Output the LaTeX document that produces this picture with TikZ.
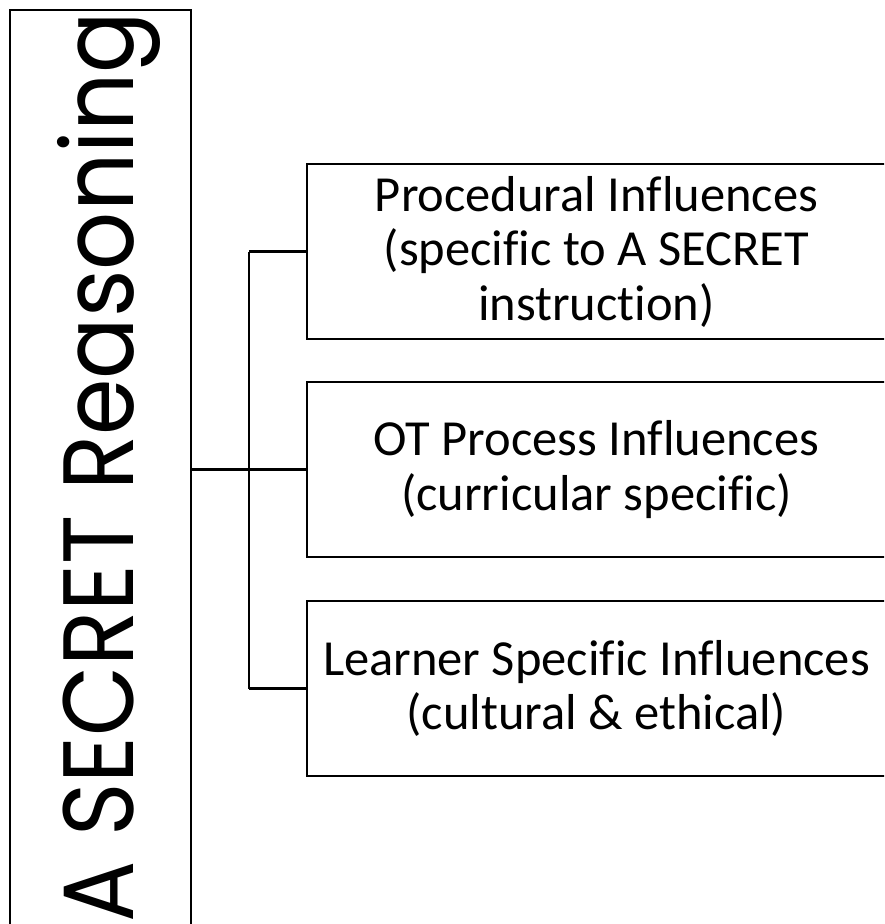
\documentclass[tikz,border=0pt]{standalone}
\usepackage{fontspec}
\setmainfont[Ligatures=CommonOff]{Carlito}
\newfontfamily\titlefont{Poppins}
\tikzset{
  box/.style={draw=black, line width=2.4pt, fill=white, inner sep=0pt, align=center,
    minimum width=579pt, minimum height=175pt, font=\fontsize{50.5}{54.5}\selectfont},
  mainbox/.style={draw=black, line width=2.4pt, inner sep=0pt,
    minimum width=181pt, minimum height=940pt},
  link/.style={draw=black, line width=2.2pt},
  title/.style={rotate=90, inner sep=0pt, font=\titlefont\fontsize{100}{110}\selectfont}
}
\begin{document}
\begin{tikzpicture}[x=1pt,y=-1pt]
\useasboundingbox (0,0) rectangle (884,924);
\clip (0,0) rectangle (884,924);
\node[mainbox] (main) at (100.5,480) {};
\node[title, anchor=base] (mt) at (133,467) {\scalebox{0.91}[1]{A SECRET Reasoning}};
\node[box] (b1) at (596.5,251.5) {Procedural Influences\\(specific to A SECRET\\instruction)};
\node[box] (b2) at (596.5,469.5) {OT Process Influences\\(curricular specific)};
\node[box] (b3) at (596.5,688.5) {Learner Specific Influences\\(cultural \& ethical)};
\coordinate (j) at (249,470);
\draw[link] (main.east |- b2.west) -- (b2.west);
\draw[link] (j |- b1.west) -- (j |- b3.west);
\draw[link] (j |- b1.west) -- (b1.west);
\draw[link] (j |- b3.west) -- (b3.west);
\end{tikzpicture}
\end{document}
